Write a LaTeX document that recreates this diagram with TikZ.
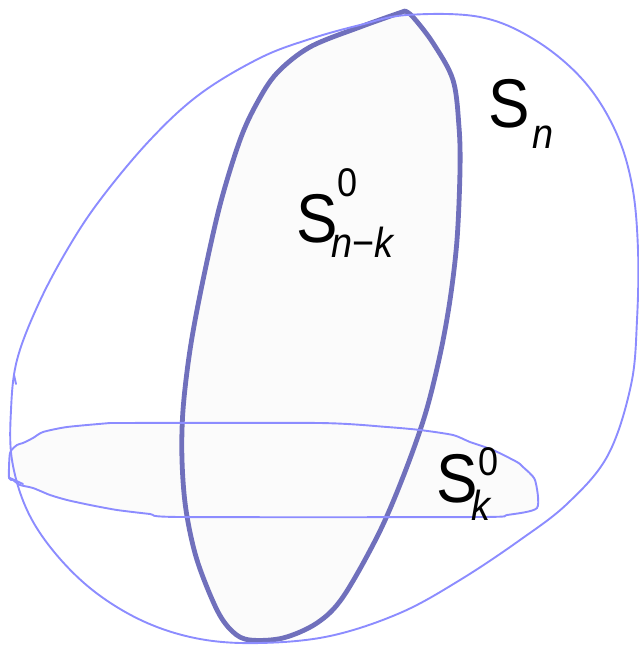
\documentclass[tikz,border=0pt]{standalone}
\usepackage{fontspec}
\setmainfont{Liberation Sans}
\newfontfamily\lblfont[FakeStretch=0.9]{Liberation Sans}
\begin{document}
\begin{tikzpicture}[x=1pt,y=-1pt,
  thin line/.style={draw={rgb,255:red,140;green,140;blue,255},line width=1.9pt,line join=round,line cap=round},
  thick line/.style={draw={rgb,255:red,112;green,112;blue,188},line width=4.8pt,line join=round,line cap=round},
  shade fill/.style={fill={rgb,255:red,251;green,251;blue,251}},
  bigS/.style={inner sep=0pt,anchor=base west,font=\lblfont\fontsize{69}{69}\selectfont},
  subl/.style={inner sep=0pt,anchor=base west,font=\lblfont\fontsize{42}{42}\selectfont\itshape},
  supl/.style={inner sep=0pt,anchor=base west,font=\lblfont\fontsize{40}{40}\selectfont}]
\useasboundingbox (0,0) rectangle (638,645);
\def\vshape{(405,11) (413,17) (433,43) (453,80) (459,127) (460,170) (457,240) (450,300) (440,355) (425,415) (403,477) (378,535) (343,597) (317,623) (283,638) (250,640) (233,632) (217,610) (197,560) (186,510) (182,460) (183,410) (190,350) (202,285) (220,205) (240,140) (257,103) (277,73) (310,47) (360,27) (405,11)}
\def\hshape{(110,423) (320,423) (387,427) (420,430) (453,435) (470,442) (493,450) (517,462) (523,467) (535,480) (537,508) (507,515) (480,517) (180,517) (150,514) (117,510) (90,505) (67,500) (50,495) (33,488) (20,485) (13,480) (9,478) (10,453) (17,445) (23,443) (33,438) (43,432) (67,427) (110,423)}
% fills
\fill[shade fill] plot[smooth,tension=0.55] coordinates \vshape -- cycle;
\fill[shade fill] plot[smooth,tension=0.4] coordinates \hshape -- cycle;
% thick S_{n-k}^0
\draw[thick line] plot[smooth,tension=0.55] coordinates \vshape;
% outer S_n
\draw[thin line] plot[smooth cycle,tension=0.6] coordinates {(407,15) (480,17) (535,40) (583,80) (615,130) (632,185) (638,250) (637,320) (631,385) (608,455) (568,503) (520,540) (460,580) (400,613) (330,636) (260,643) (200,639) (145,622) (95,592) (55,553) (27,510) (12,460) (11,410) (17,360) (38,305) (67,250) (100,200) (150,140) (200,94) (260,58) (310,39) (360,25)};
\draw[thin line] (14,375) -- (16,384);
% S_k^0
\draw[thin line] plot[smooth,tension=0.4] coordinates \hshape;
\draw[thin line] (10,478) -- (23,484);
% labels
\node[bigS] (sn) at (488,127) {S};
\node[subl] (snsub) at (532,148) {n};
\node[bigS] (snk) at (296,242) {S};
\node[supl] (snksup) at (337,196) {0};
\node[subl] (snksub) at (331,257) {n{\upshape −}k};
\node[bigS] (sk) at (436,502) {S};
\node[supl] (sksup) at (478,475) {0};
\node[subl] (sksub) at (471,520) {k};
\end{tikzpicture}
\end{document}
